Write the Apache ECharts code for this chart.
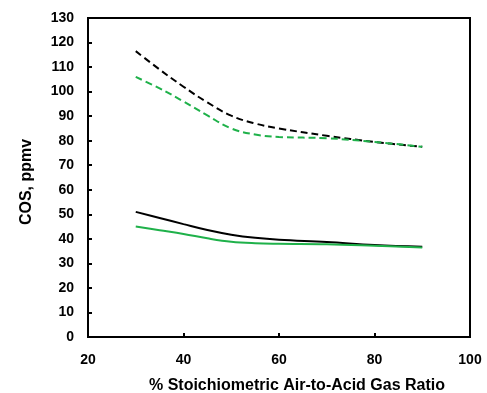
<!DOCTYPE html>
<html>
<head>
<meta charset="utf-8">
<script src="https://cdn.jsdelivr.net/npm/echarts@6/dist/echarts.min.js"></script>
<style>
  html, body { margin: 0; padding: 0; background: #fff; }
  #chart { width: 487px; height: 393px; }
</style>
</head>
<body>
<div id="chart"></div>
<script>
// stoichiometric air ratio, %
const ratio = [30, 35, 40, 45, 50, 55, 60, 70, 80, 90]

// COS, ppmv
const blackDashed = [116.5, 109, 102, 95.6, 90.2, 87, 85, 82, 79.5, 77.5]
const greenDashed = [106, 101.3, 96, 90.3, 85, 82.5, 81.5, 81, 79.5, 77.5]
const blackSolid = [51, 48.5, 46, 43.6, 41.7, 40.4, 39.6, 38.7, 37.5, 36.8]
const greenSolid = [45, 43.5, 42, 40.2, 38.8, 38.2, 38, 37.8, 37.2, 36.5]

const green = '#1fb14a'

const pairs = (ys) => ratio.map((x, i) => [x, ys[i]])

const line = (name, ys, color, dashed) => ({
  name: name,
  type: 'line',
  smooth: 0.4,
  symbol: 'none',
  lineStyle: {
    color: color,
    width: 2,
    type: dashed ? [7, 4] : 'solid'
  },
  data: pairs(ys)
})

const font = 'Liberation Sans, Arial, sans-serif'

const option = {
  animation: false,
  backgroundColor: '#fff',
  grid: {
    left: 88,
    right: 17,
    top: 18,
    bottom: 56,
    outerBoundsMode: 'none',
    show: true,
    borderColor: '#000',
    borderWidth: 2
  },
  xAxis: {
    type: 'value',
    min: 20,
    max: 100,
    interval: 20,
    name: '% Stoichiometric Air-to-Acid Gas Ratio',
    nameLocation: 'middle',
    nameGap: 41,
    nameTextStyle: {
      fontFamily: font, fontWeight: 'bold', fontSize: 16, color: '#000',
      padding: [0, 0, 0, 36]
    },
    axisLine: { lineStyle: { color: '#000', width: 2 } },
    axisTick: { inside: true, length: 4, lineStyle: { color: '#000', width: 2 } },
    axisLabel: { fontFamily: font, fontWeight: 'bold', fontSize: 14, color: '#000', margin: 16 },
    splitLine: { show: false }
  },
  yAxis: {
    type: 'value',
    min: 0,
    max: 130,
    interval: 10,
    name: 'COS, ppmv',
    nameLocation: 'middle',
    nameGap: 53,
    nameTextStyle: {
      fontFamily: font, fontWeight: 'bold', fontSize: 16, color: '#000',
      padding: [0, 9, 0, 0]
    },
    axisLine: { lineStyle: { color: '#000', width: 2 } },
    axisTick: { inside: true, length: 4, lineStyle: { color: '#000', width: 2 } },
    axisLabel: { fontFamily: font, fontWeight: 'bold', fontSize: 14, color: '#000', margin: 14 },
    splitLine: { show: false }
  },
  series: [
    line('black dashed', blackDashed, '#000', true),
    line('green dashed', greenDashed, green, true),
    line('black solid', blackSolid, '#000', false),
    line('green solid', greenSolid, green, false)
  ]
}

const chart = echarts.init(document.getElementById('chart'))
chart.setOption(option)
</script>
</body>
</html>
